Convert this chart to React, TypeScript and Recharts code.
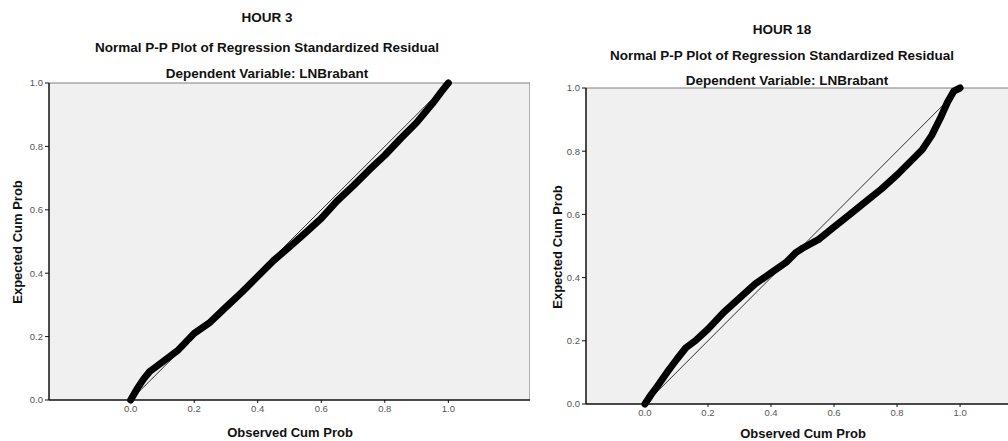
import React from 'react';
import { LineChart, Line, XAxis, YAxis, CartesianGrid, ReferenceLine } from 'recharts';

// HOUR 3 - observed vs expected cumulative probability
const hour3Observed = [0, 0.02, 0.04, 0.06, 0.08, 0.1, 0.15, 0.2, 0.25, 0.3, 0.35, 0.4, 0.45, 0.5, 0.55, 0.6, 0.65, 0.7, 0.75, 0.8, 0.85, 0.9, 0.95, 0.98, 1.0];
const hour3Expected = [0, 0.035, 0.065, 0.09, 0.105, 0.12, 0.158, 0.21, 0.245, 0.293, 0.34, 0.39, 0.44, 0.483, 0.527, 0.573, 0.628, 0.675, 0.725, 0.772, 0.825, 0.875, 0.935, 0.975, 1.0];

// HOUR 18
const hour18Observed = [0, 0.02, 0.04, 0.07, 0.1, 0.13, 0.16, 0.2, 0.25, 0.3, 0.35, 0.4, 0.45, 0.48, 0.5, 0.55, 0.6, 0.65, 0.7, 0.75, 0.8, 0.85, 0.88, 0.91, 0.94, 0.96, 0.98, 1.0];
const hour18Expected = [0, 0.03, 0.057, 0.1, 0.14, 0.178, 0.2, 0.237, 0.29, 0.335, 0.38, 0.415, 0.45, 0.48, 0.493, 0.52, 0.56, 0.6, 0.64, 0.68, 0.725, 0.775, 0.805, 0.85, 0.91, 0.955, 0.99, 1.0];

const xTicks = [0, 0.2, 0.4, 0.6, 0.8, 1.0];
const yTicks = [0, 0.2, 0.4, 0.6, 0.8, 1.0];
const diagonal = [{ x: 0, y: 0 }, { x: 1, y: 1 }];

const toPoints = (xs: number[], ys: number[]) => xs.map((x, i) => ({ x, y: ys[i] }));

const font = 'Arial, "Liberation Sans", Helvetica, sans-serif';
const tickStyle = { fontSize: 9.5, fill: '#555', fontFamily: font };

const Text = ({ x, y, children, rotate, size = 13.5 }: { x: number; y: number; children: React.ReactNode; rotate?: boolean; size?: number }) => (
    <div style={{
        position: 'absolute', left: x, top: y, whiteSpace: 'nowrap',
        transform: `translate(-50%, -50%)${rotate ? ' rotate(-90deg)' : ''}`,
        fontFamily: font, fontWeight: 'bold', fontSize: size, color: '#111',
    }}>{children}</div>
);

const PPPlot = ({ data, width, height, domain, top, yAxisWidth, xAxisHeight }: {
    data: { x: number; y: number }[]; width: number; height: number; domain: [number, number];
    top: number; yAxisWidth: number; xAxisHeight: number;
}) => (
    <LineChart width={width} height={height} margin={{ top, right: 0, bottom: 0, left: 0 }}>
        <CartesianGrid horizontal={false} vertical={false} fill="#f0f0f0" />
        <XAxis type="number" dataKey="x" domain={domain} ticks={xTicks} allowDataOverflow
            height={xAxisHeight} tickSize={3} tick={tickStyle} tickFormatter={(v) => v.toFixed(1)}
            axisLine={{ stroke: '#111', strokeWidth: 1.5 }} tickLine={{ stroke: '#111' }} />
        <YAxis type="number" dataKey="y" domain={[0, 1]} ticks={yTicks} width={yAxisWidth}
            tickSize={4} tick={tickStyle} tickFormatter={(v) => v.toFixed(1)}
            axisLine={{ stroke: '#111', strokeWidth: 1.5 }} tickLine={{ stroke: '#111' }} />
        <ReferenceLine y={1} stroke="#808080" strokeWidth={1.2} />
        <ReferenceLine x={domain[1]} stroke="#808080" strokeWidth={1.2} ifOverflow="extendDomain" />
        <Line data={data} dataKey="y" type="linear" stroke="#000" strokeWidth={7} strokeLinecap="round"
            strokeLinejoin="round" dot={false} isAnimationActive={false} />
        <Line data={diagonal} dataKey="y" type="linear" stroke="#000" strokeWidth={0.8} dot={false}
            isAnimationActive={false} />
    </LineChart>
);

export default function App() {
    return (
        <div style={{ position: 'fixed', left: 0, top: 0, width: 1008, height: 441, overflow: 'hidden', background: '#fff' }}>
            <div style={{ position: 'absolute', left: 0, top: 0 }}>
                <PPPlot data={toPoints(hour3Observed, hour3Expected)} width={530} height={441}
                    domain={[-0.257, 1.257]} top={83} yAxisWidth={49} xAxisHeight={41} />
            </div>
            <div style={{ position: 'absolute', left: 540, top: 0 }}>
                <PPPlot data={toPoints(hour18Observed, hour18Expected)} width={479} height={441}
                    domain={[-0.187, 1.187]} top={88} yAxisWidth={46} xAxisHeight={37} />
            </div>

            <Text x={267} y={17}>HOUR 3</Text>
            <Text x={267} y={47}>Normal P-P Plot of Regression Standardized Residual</Text>
            <Text x={267} y={73}>Dependent Variable: LNBrabant</Text>
            <Text x={290} y={432} size={13}>Observed Cum Prob</Text>
            <Text x={17} y={242} rotate size={13}>Expected Cum Prob</Text>

            <Text x={782} y={29}>HOUR 18</Text>
            <Text x={782} y={55}>Normal P-P Plot of Regression Standardized Residual</Text>
            <Text x={787} y={80}>Dependent Variable: LNBrabant</Text>
            <Text x={803} y={433} size={13}>Observed Cum Prob</Text>
            <Text x={557} y={247} rotate size={13}>Expected Cum Prob</Text>
        </div>
    );
}
